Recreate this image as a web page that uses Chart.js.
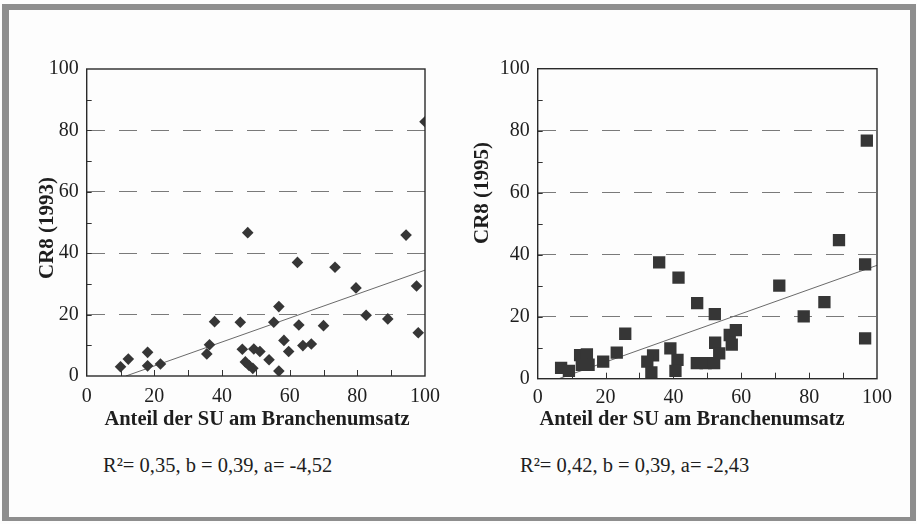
<!DOCTYPE html>
<html>
<head>
<meta charset="utf-8">
<script src="https://cdn.jsdelivr.net/npm/chart.js@4.4.1/dist/chart.umd.min.js"></script>
<style>
  html, body { margin: 0; padding: 0; background: #ffffff; }
  #page { position: relative; width: 917px; height: 524px; overflow: hidden; background: #fdfdfd; }
  #c1 { position: absolute; left: 0; top: 0; }
  #c2 { position: absolute; left: 440px; top: 0; }
  #frame { position: absolute; left: 2px; top: 4px; width: 901px; height: 507px;
           border-left: 7px solid #8e8e8e; border-top: 6px solid #8e8e8e;
           border-right: 6px solid #8e8e8e; border-bottom: 4px solid #8e8e8e; pointer-events: none; }
  .stat { position: absolute; top: 454px; font-family: "Liberation Serif", "Times New Roman", serif;
          font-size: 20.5px; color: #1e1e1e; white-space: nowrap; }
</style>
</head>
<body>
<div id="page">
  <canvas id="c1" width="450" height="440"></canvas>
  <canvas id="c2" width="477" height="440"></canvas>
  <div class="stat" style="left:103px">R²= 0,35, b = 0,39, a= -4,52</div>
  <div class="stat" style="left:520px">R²= 0,42, b = 0,39, a= -2,43</div>
  <div id="frame"></div>
</div>
<script>
// ---- data ----
const ticks = [0, 20, 40, 60, 80, 100];
const xTitle = "Anteil der SU am Branchenumsatz";
const yTitle1993 = "CR8 (1993)";
const yTitle1995 = "CR8 (1995)";

const x1993 = [100, 47.6, 94.4, 62.3, 73.4, 79.6, 97.5, 56.8, 82.6, 89.0, 98.0, 37.8, 45.4, 55.3, 62.7, 70.0,
               58.3, 36.3, 35.5, 63.9, 66.4, 59.7, 46.0, 49.4, 51.2, 53.9, 46.9, 48.0, 49.1, 56.8, 10.0, 12.3, 18.0, 18.0, 21.8];
const y1993 = [82.8, 46.7, 45.9, 37.0, 35.4, 28.7, 29.3, 22.6, 19.8, 18.6, 14.1, 17.7, 17.5, 17.5, 16.6, 16.4,
               11.6, 10.2, 7.2, 9.9, 10.4, 8.0, 8.7, 8.8, 8.0, 5.3, 4.6, 3.4, 2.5, 1.6, 3.0, 5.5, 7.7, 3.3, 3.9];

const x1995 = [6.9, 9.2, 12.5, 14.5, 13.0, 15.0, 19.3, 23.3, 25.8, 35.8, 41.5, 34.0, 32.3, 33.5, 39.1, 41.2, 40.6,
               46.9, 49.5, 52.0, 52.3, 53.5, 56.6, 57.2, 58.4, 47.0, 52.2, 71.2, 78.4, 84.5, 88.8, 96.5, 96.5, 97.0];
const y1995 = [3.5, 2.5, 7.6, 7.8, 4.5, 4.5, 5.5, 8.4, 14.5, 37.5, 32.6, 7.5, 5.5, 2.0, 9.8, 6.1, 2.5,
               5.0, 5.0, 5.0, 11.6, 8.2, 14.1, 11.0, 15.7, 24.4, 20.8, 30.0, 20.1, 24.7, 44.7, 36.9, 13.0, 76.8];

// regression parameters as printed under each chart
const a1993 = -4.52, b1993 = 0.39;
const a1995 = -2.43, b1995 = 0.39;

// ---- helpers ----
const SERIF = '"Liberation Serif", "Times New Roman", serif';
const pts = (xs, ys) => xs.map((x, i) => ({ x: x, y: ys[i] }));
const regLine = (a, b) => [{ x: -a / b, y: 0 }, { x: 100, y: a + b * 100 }];

const framePlugin = {
  id: 'frameBox',
  beforeDatasetsDraw(chart) {
    const { ctx, chartArea: ca, scales } = chart;
    ctx.save();
    ctx.strokeStyle = '#333';
    ctx.lineWidth = 1;
    ctx.beginPath();
    for (let v = 10; v < 100; v += 10) {
      const py = Math.round(scales.y.getPixelForValue(v)) + 0.5;
      ctx.moveTo(ca.left, py); ctx.lineTo(ca.left + 5, py);
      const px = Math.round(scales.x.getPixelForValue(v)) + 0.5;
      ctx.moveTo(px, ca.bottom); ctx.lineTo(px, ca.bottom - 6);
    }
    ctx.stroke();
    ctx.restore();
  },
  afterDraw(chart) {
    const { ctx, chartArea: ca } = chart;
    const o = chart.options.plugins.frameBox || {};
    ctx.save();
    ctx.strokeStyle = '#2a2a2a';
    ctx.lineWidth = 1.4;
    ctx.strokeRect(ca.left, ca.top, ca.right - ca.left, ca.bottom - ca.top);
    ctx.fillStyle = '#1e1e1e';
    ctx.textAlign = 'center';
    ctx.textBaseline = 'middle';
    // x-axis title
    ctx.font = 'bold 20.5px ' + SERIF;
    ctx.fillText(o.xTitle, o.xTitleX, o.xTitleY);
    // rotated y-axis title
    ctx.translate(o.yTitleX, o.yTitleY);
    ctx.rotate(-Math.PI / 2);
    ctx.font = 'bold 21px ' + SERIF;
    ctx.fillText(o.yTitle, 0, 0);
    ctx.restore();
  }
};

function makeChart(canvasId, xs, ys, a, b, yTitle, opts) {
  return new Chart(document.getElementById(canvasId), {
    type: 'scatter',
    data: {
      datasets: [
        {
          data: regLine(a, b),
          type: 'line',
          showLine: true,
          borderColor: '#6a6a6a',
          borderWidth: 1,
          pointRadius: 0,
          fill: false,
          order: 2
        },
        {
          data: pts(xs, ys),
          pointStyle: opts.pointStyle,
          pointRadius: opts.radius,
          pointHoverRadius: opts.radius,
          backgroundColor: '#363636',
          borderColor: '#363636',
          borderWidth: 0,
          order: 1
        }
      ]
    },
    options: {
      responsive: false,
      animation: false,
      events: [],
      layout: { padding: { left: 0, top: opts.top, right: opts.right, bottom: 0 } },
      plugins: {
        legend: { display: false }, tooltip: { enabled: false },
        frameBox: {
          xTitle: xTitle, xTitleX: opts.xTitleX, xTitleY: 420,
          yTitle: yTitle, yTitleX: opts.yTitleX, yTitleY: opts.yTitleY
        }
      },
      scales: {
        x: {
          type: 'linear', min: 0, max: 100,
          afterBuildTicks: s => { s.ticks = ticks.map(v => ({ value: v })); },
          afterFit: s => { s.height = opts.xHeight; },
          grid: { display: false, drawTicks: false },
          border: { display: false },
          ticks: { font: { family: SERIF, size: 20 }, color: '#1e1e1e', padding: opts.xPad, maxRotation: 0 },
          title: { display: false }
        },
        y: {
          type: 'linear', min: 0, max: 100,
          afterBuildTicks: s => { s.ticks = ticks.map(v => ({ value: v })); },
          afterFit: s => { s.width = opts.yWidth; },
          grid: {
            drawTicks: false,
            color: ctx => (ctx.tick && ctx.tick.value > 0 && ctx.tick.value < 100) ? '#7a7a7a' : 'rgba(0,0,0,0)',
            lineWidth: 1
          },
          border: { display: false, dash: [18, 14] },
          ticks: { font: { family: SERIF, size: 20 }, color: '#1e1e1e', padding: 8 },
          title: { display: false }
        }
      }
    },
    plugins: [framePlugin]
  });
}

makeChart('c1', x1993, y1993, a1993, b1993, yTitle1993, {
  pointStyle: 'rectRot', radius: 5.8,
  top: 69, right: 25, xHeight: 64, yWidth: 86.7, xPad: 9,
  xTitleX: 257, yTitleX: 48, yTitleY: 228
});
makeChart('c2', x1995, y1995, a1995, b1995, yTitle1995, {
  pointStyle: 'rect', radius: 8.7,
  top: 68.7, right: 40, xHeight: 61.3, yWidth: 97.7, xPad: 7,
  xTitleX: 252, yTitleX: 43, yTitleY: 193
});
</script>
</body>
</html>
